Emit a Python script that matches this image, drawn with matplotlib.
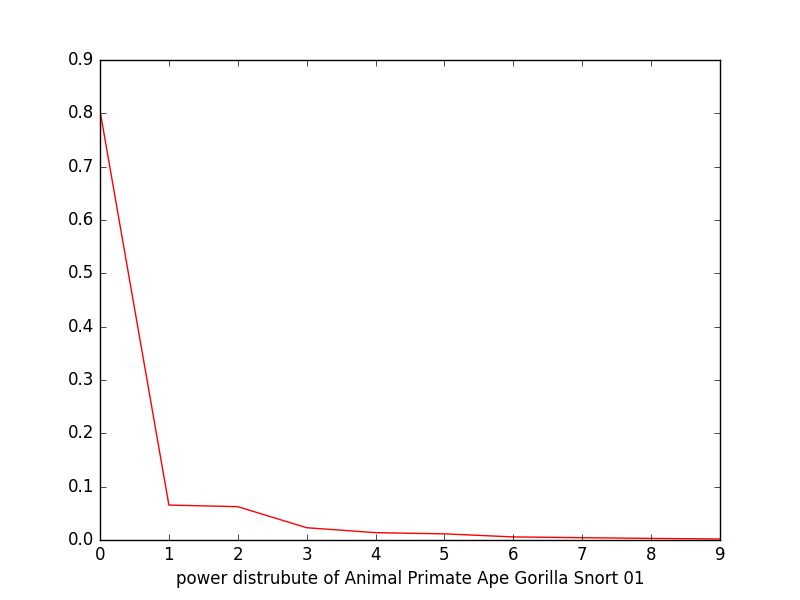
import matplotlib
matplotlib.use('Agg')
import matplotlib.pyplot as plt

plt.style.use('classic')

x = [0, 1, 2, 3, 4, 5, 6, 7, 8, 9]
power = [0.805, 0.0655, 0.0625, 0.023, 0.0138, 0.0115, 0.0058, 0.0043, 0.003, 0.0019]

fig, ax = plt.subplots(figsize=(8, 6), dpi=100)
ax.plot(x, power, color='red')
ax.set_xlim(0, 9)
ax.set_ylim(0, 0.9)
ax.set_xlabel('power distrubute of Animal Primate Ape Gorilla Snort 01')
fig.patch.set_facecolor('white')
plt.savefig('out.png', dpi=100, facecolor='white')
